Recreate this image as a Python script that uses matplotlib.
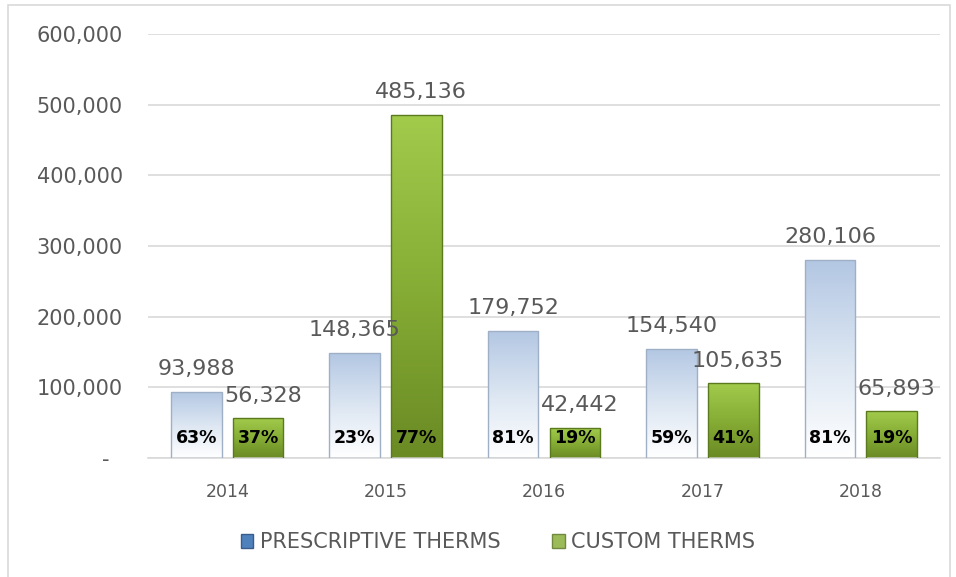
import numpy as np
import matplotlib
matplotlib.use("Agg")
import matplotlib.pyplot as plt
from matplotlib.patches import Rectangle, Patch
from matplotlib.colors import LinearSegmentedColormap

# Données
years = ["2014", "2015", "2016", "2017", "2018"]
prescriptive = [93988, 148365, 179752, 154540, 280106]
custom = [56328, 485136, 42442, 105635, 65893]
pct_presc = ["63%", "23%", "81%", "59%", "81%"]
pct_custom = ["37%", "77%", "19%", "41%", "19%"]

plt.rcParams['font.family'] = ['DejaVu Sans']
gris = "#595959"

fig = plt.figure(figsize=(9.56, 5.77), dpi=100)
ax = fig.add_axes([0.1548, 0.2062, 0.8285, 0.7348])

# cadre autour du graphique
fig.patches.append(Rectangle((0.008, -0.01), 0.986, 1.001, transform=fig.transFigure,
                             fill=False, edgecolor="#d9d9d9", linewidth=1.2))

x = np.arange(len(years))
w = 0.32
off = 0.195

cmap_blue = LinearSegmentedColormap.from_list("b", ["#ffffff", "#dce6f2", "#b3c7e3"])
cmap_green = LinearSegmentedColormap.from_list("g", ["#6a8a24", "#86ad35", "#a2cb4c"])
grad = np.linspace(0, 1, 256).reshape(-1, 1)

def barres(pos, vals, cmap, edge):
    bars = ax.bar(pos, vals, width=w, color="none", edgecolor=edge, linewidth=1.0, zorder=3)
    for b in bars:
        x0, y0 = b.get_x(), b.get_y()
        im = ax.imshow(grad, cmap=cmap, aspect="auto", origin="lower",
                       extent=[x0, x0 + b.get_width(), y0, y0 + b.get_height()], zorder=2)
        im.set_clip_path(b)
    return bars

barres(x - off, prescriptive, cmap_blue, "#9fb0c6")
barres(x + off, custom, cmap_green, "#5b7a1e")

# étiquettes de valeur
for i in range(len(years)):
    ax.text(x[i] - off, prescriptive[i] + 18000, f"{prescriptive[i]:,}", ha="center", va="bottom",
            fontsize=16, color=gris, zorder=5)
    ax.text(x[i] + off + 0.03, custom[i] + 18000, f"{custom[i]:,}", ha="center", va="bottom",
            fontsize=16, color=gris, zorder=5)
    ax.text(x[i] - off, 29000, pct_presc[i], ha="center", va="center",
            fontsize=12.5, fontweight="bold", color="black", zorder=5)
    ax.text(x[i] + off, 29000, pct_custom[i], ha="center", va="center",
            fontsize=12.5, fontweight="bold", color="black", zorder=5)

ax.set_xlim(-0.5, 4.5)
ax.set_ylim(0, 600000)
ax.set_yticks(np.arange(0, 600001, 100000))
ax.set_yticklabels(["-  "] + [f"{v:,}" for v in range(100000, 600001, 100000)])
ax.set_xticks(x)
ax.set_xticklabels(years)
ax.tick_params(axis="y", length=0, pad=18, labelsize=15, labelcolor=gris)
ax.tick_params(axis="x", length=0, pad=18, labelsize=12.5, labelcolor=gris)
ax.grid(axis="y", color="#d9d9d9", linewidth=1.2, zorder=0)
ax.set_axisbelow(True)
for s in ["top", "right", "left"]:
    ax.spines[s].set_visible(False)
ax.spines["bottom"].set_color("#d9d9d9")
ax.spines["bottom"].set_linewidth(1.2)

handles = [Patch(facecolor="#4f81bd", edgecolor="#385d8a", label="PRESCRIPTIVE THERMS"),
           Patch(facecolor="#9bbb59", edgecolor="#71893f", label="CUSTOM THERMS")]
leg = fig.legend(handles=handles, loc="center", bbox_to_anchor=(0.521, 0.06), ncol=2,
                 frameon=False, fontsize=15, handlelength=0.6, handleheight=0.6,
                 handletextpad=0.3, columnspacing=2.5)
for t in leg.get_texts():
    t.set_color(gris)

fig.savefig("out.png", dpi=100)
